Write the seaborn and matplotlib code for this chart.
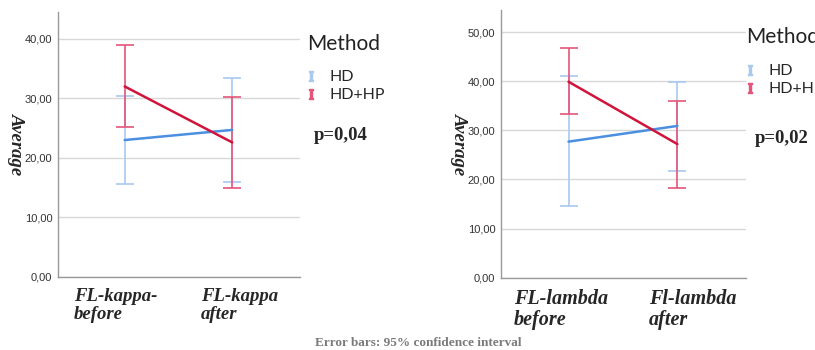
import pandas as pd
import numpy as np
import matplotlib
matplotlib.use('Agg')
import matplotlib.pyplot as plt
from matplotlib.lines import Line2D
import seaborn as sns

methods = ['HD', 'HD+HP']

kappa_labels = ['FL-kappa-\nbefore', 'FL-kappa\nafter']
kappa_mean = {'HD': [23.0, 24.7], 'HD+HP': [32.0, 22.6]}
kappa_low = {'HD': [15.6, 15.9], 'HD+HP': [25.2, 15.0]}
kappa_high = {'HD': [30.4, 33.5], 'HD+HP': [38.9, 30.2]}

lambda_labels = ['FL-lambda\nbefore', 'Fl-lambda\nafter']
lambda_mean = {'HD': [27.7, 30.9], 'HD+HP': [39.9, 27.2]}
lambda_low = {'HD': [14.5, 21.7], 'HD+HP': [33.3, 18.3]}
lambda_high = {'HD': [41.0, 39.9], 'HD+HP': [46.7, 35.9]}

line_colors = {'HD': '#4a8fe0', 'HD+HP': '#d0143c'}
bar_colors = {'HD': '#a9c9ef', 'HD+HP': '#e5557a'}

sns.set_style('white')
serif = ['Liberation Serif', 'DejaVu Serif']
sans = ['Liberation Sans', 'DejaVu Sans']
legfont = ['Lato', 'DejaVu Sans']
plt.rcParams['font.family'] = sans
plt.rcParams['mathtext.fontset'] = 'dejavuserif'

W, H = 815, 350
fig = plt.figure(figsize=(8.15, 3.5), dpi=100)
ax1 = fig.add_axes([58 / W, 73 / H, 242 / W, 265 / H])
ax2 = fig.add_axes([501 / W, 72.3 / H, 245 / W, 267.7 / H])


def draw_panel(ax, labels, mean, low, high, ymax, yticks, pval, title_xy, leg_xy,
               p_xy, label_shift, label_size):
    rows = []
    for m in methods:
        for lab, v in zip(labels, mean[m]):
            rows.append({'Time': lab, 'Method': m, 'Average': v})
    df = pd.DataFrame(rows)
    sns.lineplot(data=df, x='Time', y='Average', hue='Method', palette=line_colors,
                 linewidth=1.8, legend=False, ax=ax, sort=False, zorder=3)
    x = np.arange(len(labels))
    for m in methods:
        mu = np.array(mean[m])
        err = [mu - np.array(low[m]), np.array(high[m]) - mu]
        ax.errorbar(x, mu, yerr=err, fmt='none', ecolor=bar_colors[m],
                    elinewidth=1.2, capsize=6.5, capthick=1.2, zorder=2)
    ax.set_ylim(0, ymax)
    ax.set_xlim(-0.62, 1.63)
    ax.set_yticks(yticks)
    ax.set_yticklabels([f'{t:.2f}'.replace('.', ',') for t in yticks],
                       fontsize=8, color='#333333')
    # tick labels sit a little off the category centres in the original
    ax.set_xticks(x + np.array(label_shift))
    ax.set_xticklabels(labels, fontsize=label_size, fontweight='bold', fontstyle='italic',
                       family=serif, multialignment='left', linespacing=1.05)
    ax.tick_params(axis='x', length=0, pad=8)
    ax.tick_params(axis='y', length=2, pad=2)
    ax.set_xlabel('')
    ax.set_ylabel('Average', fontsize=13.5, fontweight='bold', fontstyle='italic',
                  family=serif, rotation=270, labelpad=12)
    ax.grid(axis='y', color='#d8d8d8', linewidth=1)
    ax.set_axisbelow(True)
    for s in ['top', 'right']:
        ax.spines[s].set_visible(False)
    for s in ['left', 'bottom']:
        ax.spines[s].set_color('#999999')
        ax.spines[s].set_linewidth(1)

    fig.text(title_xy[0] / W, 1 - title_xy[1] / H, 'Method', fontsize=15,
             family=legfont, va='center', ha='left', color='#222222')
    handles = [Line2D([], [], linestyle='none', marker=r'$\mathrm{I}$',
                      markersize=7, color=bar_colors[m]) for m in methods]
    ax.legend(handles, methods, loc='upper left',
              bbox_to_anchor=(leg_xy[0] / W, 1 - leg_xy[1] / H),
              bbox_transform=fig.transFigure, frameon=False,
              prop={'family': legfont, 'size': 11.5},
              handlelength=0.6, handletextpad=0.9, labelspacing=0.25,
              borderaxespad=0, borderpad=0)
    ax.text(p_xy[0] / W, 1 - p_xy[1] / H, pval, transform=fig.transFigure,
            fontsize=13.5, fontweight='bold', family=serif, va='center', ha='left')


draw_panel(ax1, kappa_labels, kappa_mean, kappa_low, kappa_high, 44.5,
           [0, 10, 20, 30, 40], 'p=0,04', (307, 44), (306, 70), (314, 136),
           [-0.084, 0.065], 13.5)
draw_panel(ax2, lambda_labels, lambda_mean, lambda_low, lambda_high, 54.5,
           [0, 10, 20, 30, 40, 50], 'p=0,02', (746, 37), (745, 64), (755, 138),
           [-0.067, 0.14], 14.5)

fig.text(418 / W, 7 / H, 'Error bars: 95% confidence interval', ha='center',
         va='center', fontsize=9.5, fontweight='bold', color='#7a7a7a', family=serif)

fig.savefig('out.png', dpi=100)
